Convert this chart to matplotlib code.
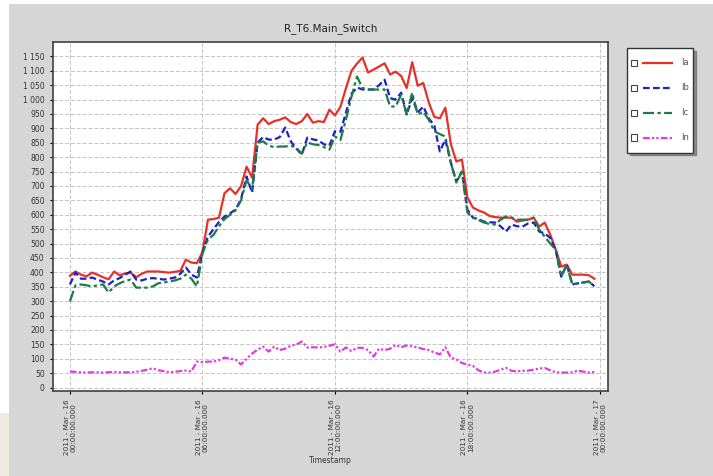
import numpy as np
import pandas as pd
import matplotlib
matplotlib.use("Agg")
import matplotlib.pyplot as plt
from matplotlib.lines import Line2D
from matplotlib.patches import Rectangle
from matplotlib.legend_handler import HandlerBase
from matplotlib.ticker import FuncFormatter

# 15 minute samples, 2011-Mar-16
times = pd.date_range("2011-03-16 00:00", periods=96, freq="15min")

ia = [388, 403, 392, 386, 399, 392, 383, 376, 403, 390, 396, 399,
      383, 395, 403, 403, 403, 401, 399, 402, 405, 444, 434, 432,
      470, 583, 585, 590, 675, 692, 672, 700, 767, 729, 913, 935,
      915, 925, 930, 938, 922, 915, 925, 950, 920, 925, 922, 965,
      945, 975, 1040, 1100, 1125, 1146, 1094, 1104, 1115, 1126, 1087, 1097,
      1082, 1040, 1130, 1048, 1058, 990, 940, 935, 972, 845, 785, 792,
      660, 625, 615, 608, 596, 592, 590, 590, 590, 576, 580, 583,
      590, 559, 573, 531, 479, 420, 427, 392, 392, 392, 390, 378]

ib = [358, 399, 378, 378, 382, 375, 368, 358, 372, 380, 392, 403,
      375, 372, 378, 380, 378, 375, 378, 382, 395, 417, 392, 382,
      470, 524, 550, 575, 594, 605, 618, 655, 733, 677, 851, 870,
      861, 861, 870, 903, 855, 830, 809, 868, 862, 858, 845, 840,
      890, 888, 955, 1020, 1042, 1035, 1035, 1035, 1050, 1069, 1005, 1000,
      1024, 948, 1005, 955, 976, 935, 910, 820, 861, 781, 715, 750,
      618, 590, 585, 576, 574, 573, 560, 542, 566, 560, 559, 570,
      573, 542, 535, 520, 475, 385, 427, 358, 362, 365, 368, 352]

ic = [299, 355, 358, 355, 351, 355, 358, 330, 351, 362, 370, 375,
      347, 347, 347, 351, 362, 365, 368, 372, 378, 392, 378, 351,
      465, 514, 530, 560, 585, 600, 615, 650, 720, 690, 851, 855,
      840, 835, 837, 837, 840, 833, 812, 851, 845, 842, 835, 826,
      872, 860, 931, 1010, 1080, 1040, 1035, 1035, 1035, 1035, 976, 976,
      1017, 948, 1024, 948, 958, 930, 890, 880, 872, 781, 712, 750,
      608, 590, 582, 573, 568, 566, 583, 594, 590, 583, 583, 583,
      590, 549, 524, 500, 479, 385, 427, 358, 362, 365, 368, 352]

in_ = [56, 54, 53, 52, 53, 53, 52, 53, 54, 53, 53, 52,
       55, 58, 62, 67, 60, 57, 53, 55, 57, 59, 56, 90,
       88, 90, 90, 95, 104, 100, 97, 80, 100, 118, 132, 142,
       125, 142, 130, 135, 145, 149, 160, 139, 140, 139, 141, 145,
       150, 125, 139, 127, 138, 138, 130, 108, 135, 130, 135, 148,
       140, 146, 143, 139, 134, 130, 122, 115, 140, 104, 98, 85,
       80, 75, 60, 52, 52, 55, 62, 68, 58, 56, 58, 59,
       62, 66, 68, 60, 53, 52, 52, 53, 59, 55, 52, 54]

names = ["Ia", "Ib", "Ic", "In"]
colors = ["#e8302a", "#1c20c8", "#1f7a45", "#e03ce0"]
styles = ["-", (0, (3, 1.5)), (0, (5, 1.5, 1.5, 1.5)), (0, (3, 1, 1, 1, 1, 1))]

bg = "#d6d6d6"
fig = plt.figure(figsize=(7.13, 4.76), dpi=100, facecolor="white")
W, H = 713, 476
# grey panel behind the chart, beige corner of the page bottom left
fig.patches.append(Rectangle((9 / W, 0), 1, 1 - 4 / H, transform=fig.transFigure,
                             facecolor=bg, edgecolor="none", zorder=-10))
fig.patches.append(Rectangle((0, 0), 9 / W, 63 / H, transform=fig.transFigure,
                             facecolor="#efebe3", edgecolor="none", zorder=-10))

ax = fig.add_axes([53 / W, 1 - 391 / H, 555 / W, 349 / H])
ax.set_facecolor("white")

series = [ia, ib, ic, in_]
lines = []
for vals, name, c, ls in zip(series, names, colors, styles):
    l, = ax.plot(times, vals, color=c, ls=ls, lw=1.6, label=name)
    lines.append(l)

t0 = pd.Timestamp("2011-03-16 00:00")
ax.set_xlim(t0 - pd.Timedelta(minutes=46), t0 + pd.Timedelta(hours=24, minutes=22))
ax.set_ylim(-12, 1200)

yt = np.arange(0, 1151, 50)
ax.set_yticks(yt)
ax.yaxis.set_major_formatter(FuncFormatter(lambda v, p: f"{int(v):,}".replace(",", " ")))

xt = [t0 + pd.Timedelta(hours=h) for h in (0, 6, 12, 18, 24)]
ax.set_xticks(xt)
ax.set_xticklabels([f"{t:%Y - %b - %d}\n{t:%H:%M:%S}.000" for t in xt],
                   rotation=90, fontsize=5.2, color="#333333", linespacing=1.1)
ax.tick_params(axis="y", labelsize=5.5, labelcolor="#333333", length=2.5)
ax.tick_params(axis="x", length=2.5)

ax.grid(True, color="#c4c4c4", ls=(0, (4, 2)), lw=0.7)
for s in ax.spines.values():
    s.set_color("#404040")
    s.set_linewidth(1.2)

ax.set_title("R_T6.Main_Switch", fontsize=7.5, color="#222222", pad=8)
ax.set_xlabel("Timestamp", fontsize=5.5, color="#333333", labelpad=1)


class BoxLine(HandlerBase):
    # small check box at the left, then the series line
    def create_artists(self, legend, orig, xd, yd, w, h, fs, trans):
        yc = h / 2 - yd
        s = 4.5
        box = Rectangle((-xd, yc - s / 2), s, s, facecolor="white",
                        edgecolor="#444444", lw=0.8, transform=trans)
        ln = Line2D([-xd + 0.3 * w, -xd + w], [yc, yc])
        ln.update_from(orig)
        ln.set_clip_box(None)
        ln.set_clip_path(None)
        ln.set_clip_on(False)
        ln.set_transform(trans)
        return [box, ln]


leg = fig.legend(lines, names, handler_map={Line2D: BoxLine()},
                 loc="upper left", bbox_to_anchor=(627 / W, 1 - 48 / H),
                 borderaxespad=0, fontsize=6, handlelength=4.9, handleheight=3.6,
                 labelspacing=0.4, borderpad=0.5, handletextpad=1.1,
                 fancybox=False, framealpha=1, edgecolor="#333333", shadow=True)
for t in leg.get_texts():
    t.set_color("#555555")

plt.savefig("out.png", dpi=100, facecolor="white")
